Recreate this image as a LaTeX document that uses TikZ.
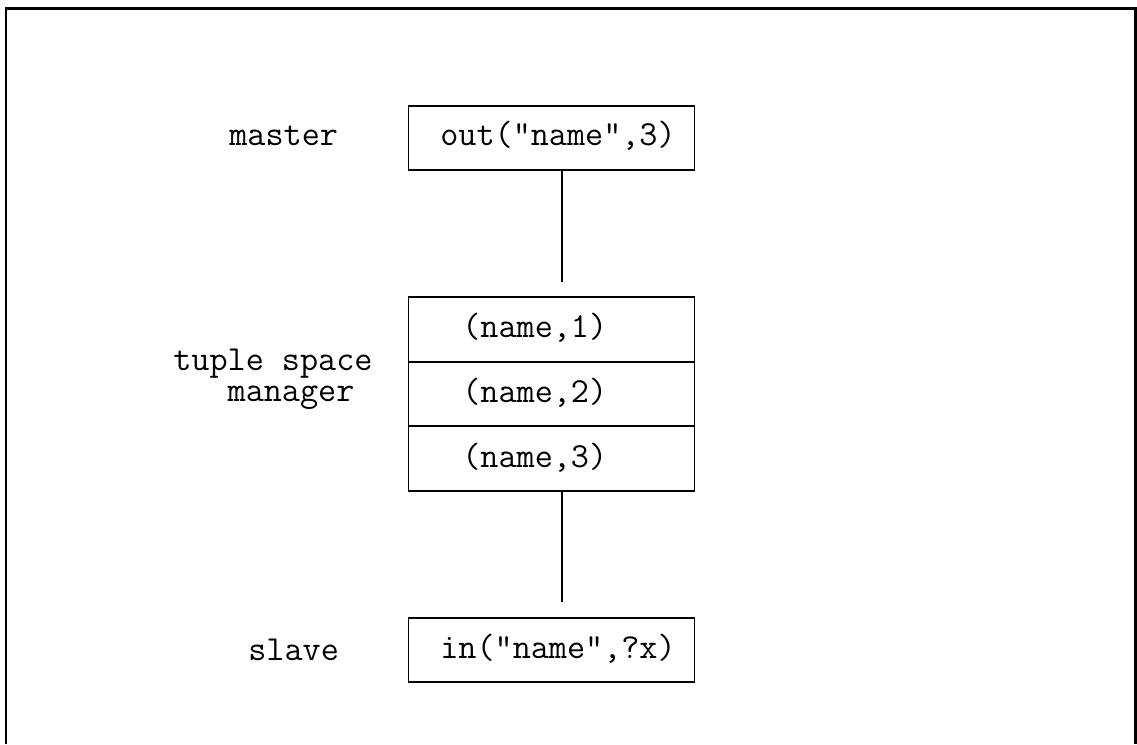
\documentclass[tikz,border=0pt]{standalone}
\usepackage{fontspec}
\usetikzlibrary{positioning}
\begin{document}
\begin{tikzpicture}[scale=0.2]
\tikzstyle{every node}+=[inner sep=0pt, font=\ttfamily\fontsize{20}{17.6}\selectfont]
\tikzstyle{cell}=[draw, line width=1pt, outer sep=0pt, minimum width=5.72cm, minimum height=1.28cm]
\tikzstyle{row}=[cell, minimum height=1.293cm]
\tikzstyle{link}=[line width=0.9pt]
\useasboundingbox (0,0) rectangle (113.7,-74.4);
\draw [line width=1.2pt] (0.6,-74.4) -- (0.6,-0.85) -- (113.55,-0.85) -- (113.55,-74.4);

\node [cell] (master) at (55.15,-13.8) {};
\node [row] (tup1) at (55.15,-32.93) {};
\node [row, below=0pt of tup1] (tup2) {};
\node [row, below=0pt of tup2] (tup3) {};
\node [cell] (slave) at (55.15,-65.0) {};

\node [anchor=base west] (outtxt) at (44.0,-14.5) {out("name",3)};
\node [anchor=base west] (t1txt) at (46.2,-33.7) {(name,1)};
\node [anchor=base west] (t2txt) at (46.2,-40.2) {(name,2)};
\node [anchor=base west] (t3txt) at (46.2,-46.7) {(name,3)};
\node [anchor=base west] (intxt) at (44.0,-65.8) {in("name",?x)};

\node [anchor=base west] (lmaster) at (22.9,-14.5) {master};
\node [anchor=north west, align=left] (ltuple) at (17.3,-34.9) {tuple space\\\phantom{tup}manager};
\node [anchor=base west] (lslave) at (24.8,-66.0) {slave};

\draw [link] ([xshift=1.05cm]master.south) -- ([xshift=1.05cm,yshift=1.5cm]tup1.north);
\draw [link] ([xshift=1.05cm]tup3.south) -- ([xshift=1.05cm,yshift=1.6cm]slave.north);
\end{tikzpicture}
\end{document}
